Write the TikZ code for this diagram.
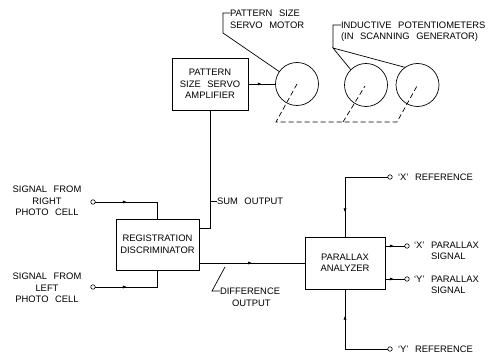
\documentclass[tikz,border=0pt]{standalone}
\usepackage{fontspec}
\setmainfont{Liberation Sans}
\usetikzlibrary{arrows.meta,decorations.markings}

\begin{document}
\begin{tikzpicture}[x=1pt,y=-1pt,
    line width=0.7pt, line cap=butt, line join=miter,
    every node/.style={inner sep=0pt,outer sep=0pt},
    lab/.style={font=\fontsize{9.4}{11.5}\selectfont,
        execute at begin node={\spaceskip=0.7em\relax}},
    blk/.style={draw,lab,align=center},
    dial/.style={draw,circle,minimum size=43pt},
    term/.style={draw,circle,fill=white,minimum size=4.5pt,line width=0.6pt},
    link/.style={dash pattern=on 5pt off 3pt},
    marr/.style={postaction={decorate},decoration={markings,
        mark=at position #1 with {\arrow{Latex[length=4pt,width=3.2pt]}}}}]
  \useasboundingbox (0,0) rectangle (494,355);
  % ---- blocks ----
  \node[blk,minimum width=76pt,minimum height=52pt] (amp) at (210,84) {PATTERN\\SIZE SERVO\\AMPLIFIER};
  \node[blk,minimum width=83pt,minimum height=51pt] (reg) at (157.5,244.5) {REGISTRATION\\DISCRIMINATOR};
  \node[blk,minimum width=80pt,minimum height=52pt] (par) at (345,263) {PARALLAX\\ANALYZER};
  % ---- motor and potentiometers ----
  \node[dial] (motor) at (297,84) {};
  \node[dial] (potA) at (366,85) {};
  \node[dial] (potB) at (417.5,85) {};
  % ---- terminals ----
  \node[term] (inR)  at (93,202) {};
  \node[term] (inL)  at (93,287) {};
  \node[term] (xref) at (390,177) {};
  \node[term] (xsig) at (407,246) {};
  \node[term] (ysig) at (407,279) {};
  \node[term] (yref) at (390,349) {};
  % ---- labels ----
  \node[lab,align=center] (tR) at (47,201) {SIGNAL FROM\\RIGHT\\PHOTO CELL};
  \node[lab,align=center] (tL) at (47,288) {SIGNAL FROM\\LEFT\\PHOTO CELL};
  \node[lab,align=left,anchor=west] (tmot) at (230,19.5) {PATTERN SIZE\\SERVO MOTOR};
  \node[lab,align=left,anchor=west] (tpot) at (341,31.5) {INDUCTIVE POTENTIOMETERS\\(IN SCANNING GENERATOR)};
  \node[lab,anchor=west] (tsum) at (217,201) {SUM OUTPUT};
  \node[lab,align=left,anchor=west] (tdif) at (220,297.5) {DIFFERENCE\\\hspace*{12pt}OUTPUT};
  \node[lab,anchor=west] (txr) at (398,177) {`X' REFERENCE};
  \node[lab,align=left,anchor=west] (txs) at (414,251) {`X' PARALLAX\\\phantom{`X' }SIGNAL};
  \node[lab,align=left,anchor=west] (tys) at (414,285) {`Y' PARALLAX\\\phantom{`Y' }SIGNAL};
  \node[lab,anchor=west] (tyr) at (398,349) {`Y' REFERENCE};
  % ---- signal lines ----
  \coordinate (sumout) at (reg.east |- 0,228);
  \draw[marr=0.4] (inR) -| (reg.north);
  \draw[marr=0.4] (inL) -| (reg.south);
  \draw (sumout) -| (amp.south);
  \draw[marr=0.5] (amp) -- (motor);
  \draw[marr=0.5] (reg.east |- par) -- (par);
  \draw[marr=0.76] (xref) -| (par.north);
  \draw[marr=0.74] (yref) -| (par.south);
  \draw[marr=0.45] (par.east |- xsig) -- (xsig);
  \draw[marr=0.45] (par.east |- ysig) -- (ysig);
  % ---- leaders ----
  \draw (amp.south |- 0,201) -- (tsum.west);
  \draw (225,267) -- (212,291) -- (tdif.west |- 0,291);
  \draw (motor.145) -- (223,33) -- (223,13) -- (tmot.west |- 0,13);
  \coordinate (pj) at (333,48);
  \draw (potA.135) -- (pj) -- (potB.125)
        (pj) -- (333,25) -- (tpot.west |- 0,25);
  % ---- mechanical linkage ----
  \draw[link] (motor.center) -- (276,122) -- (397,122) -- (417,86)
              (343,122) -- (365,86);
\end{tikzpicture}
\end{document}
